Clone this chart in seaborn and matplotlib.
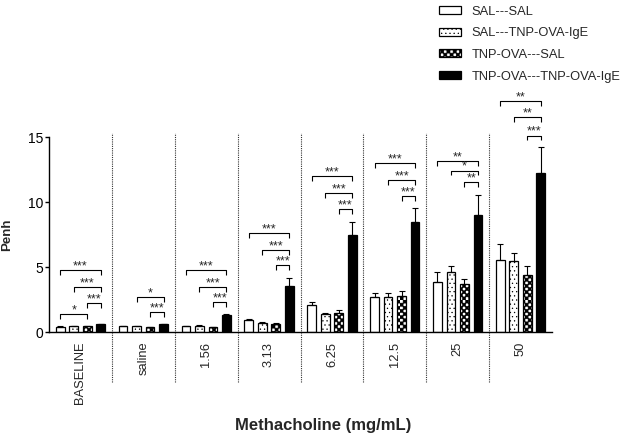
import warnings
import numpy as np
import pandas as pd
import seaborn as sns
import matplotlib
matplotlib.use('Agg')
import matplotlib.pyplot as plt
from matplotlib import hatch as mhatch
from matplotlib.path import Path

warnings.filterwarnings('ignore')

doses = ['BASELINE', 'saline', '1.56', '3.13', '6.25', '12.5', '25', '50']
groups = ['SAL---SAL', 'SAL---TNP-OVA-IgE', 'TNP-OVA---SAL', 'TNP-OVA---TNP-OVA-IgE']

sal_sal = [0.42, 0.45, 0.45, 0.95, 2.08, 2.72, 3.82, 5.54]
sal_ige = [0.45, 0.45, 0.50, 0.72, 1.38, 2.70, 4.60, 5.50]
ova_sal = [0.45, 0.35, 0.38, 0.62, 1.43, 2.80, 3.70, 4.38]
ova_ige = [0.58, 0.58, 1.30, 3.55, 7.45, 8.46, 9.05, 12.30]

sal_sal_err = [0.02, 0.02, 0.03, 0.08, 0.22, 0.28, 0.78, 1.23]
sal_ige_err = [0.02, 0.02, 0.03, 0.05, 0.12, 0.30, 0.50, 0.63]
ova_sal_err = [0.03, 0.03, 0.04, 0.05, 0.27, 0.40, 0.40, 0.70]
ova_ige_err = [0.04, 0.04, 0.08, 0.60, 1.06, 1.14, 1.55, 1.95]

# (dose index, bar a, bar b, bracket height, label)
brackets = [
    (0, 0, 3, 4.77, '***'), (0, 1, 3, 3.50, '***'), (0, 2, 3, 2.20, '***'), (0, 0, 2, 1.40, '*'),
    (1, 1, 3, 2.70, '*'), (1, 2, 3, 1.55, '***'),
    (2, 0, 3, 4.77, '***'), (2, 1, 3, 3.50, '***'), (2, 2, 3, 2.30, '***'),
    (3, 0, 3, 7.60, '***'), (3, 1, 3, 6.35, '***'), (3, 2, 3, 5.15, '***'),
    (4, 0, 3, 12.00, '***'), (4, 1, 3, 10.70, '***'), (4, 2, 3, 9.50, '***'),
    (5, 0, 3, 13.00, '***'), (5, 1, 3, 11.75, '***'), (5, 2, 3, 10.45, '***'),
    (6, 0, 3, 13.20, '**'), (6, 1, 3, 12.45, '*'), (6, 2, 3, 11.55, '**'),
    (7, 0, 3, 17.80, '**'), (7, 1, 3, 16.60, '**'), (7, 2, 3, 15.15, '***'),
]


# checkerboard hatch, triggered by 'c'
class CheckerHatch(mhatch.HatchPatternBase):
    def __init__(self, hatch, density):
        self.n = 32 if 'c' in hatch else 0
        self.num_vertices = (self.n * self.n // 2) * 5

    def set_vertices_and_codes(self, vertices, codes):
        s = 1.0 / self.n
        k = 0
        for i in range(self.n):
            for j in range(self.n):
                if (i + j) % 2:
                    continue
                x0, y0 = i * s, j * s
                vertices[k:k + 5] = [(x0, y0), (x0 + s, y0), (x0 + s, y0 + s), (x0, y0 + s), (x0, y0)]
                codes[k:k + 5] = [Path.MOVETO, Path.LINETO, Path.LINETO, Path.LINETO, Path.CLOSEPOLY]
                k += 5


mhatch._hatch_types.append(CheckerHatch)

sns.set_style('ticks')
plt.rcParams['font.family'] = ['Liberation Sans', 'DejaVu Sans']
plt.rcParams['hatch.linewidth'] = 0.4
plt.rcParams['hatch.color'] = 'black'

df = pd.DataFrame({
    'dose': doses * 4,
    'group': np.repeat(groups, len(doses)),
    'penh': sal_sal + sal_ige + ova_sal + ova_ige,
})

fig = plt.figure(figsize=(6.3, 4.4), dpi=100)
ax = fig.add_axes([49 / 630, 1 - 332 / 440, 503 / 630, 194.5 / 440])

sns.barplot(data=df, x='dose', y='penh', hue='group', order=doses, hue_order=groups,
            palette=['white', 'white', 'white', 'black'], saturation=1,
            width=0.86, gap=0.35, edgecolor='black', linewidth=0.9,
            errorbar=None, legend=False, ax=ax)

hatches = [None, '....', 'c', None]
errs = [sal_sal_err, sal_ige_err, ova_sal_err, ova_ige_err]
for cont, h, err in zip(ax.containers, hatches, errs):
    xs, ys = [], []
    for p in cont:
        if h:
            p.set_hatch(h)
        xs.append(p.get_x() + p.get_width() / 2)
        ys.append(p.get_height())
    ax.errorbar(xs, ys, yerr=[np.zeros(len(err)), err], fmt='none', ecolor='black',
                elinewidth=0.8, capsize=2, capthick=0.8, zorder=3)


def bar_x(d, b):
    p = ax.containers[b][d]
    return p.get_x() + p.get_width() / 2


for d, a, b, y, lab in brackets:
    xa, xb = bar_x(d, a), bar_x(d, b)
    ax.plot([xa, xa, xb, xb], [y - 0.38, y, y, y - 0.38], color='black', lw=0.8,
            clip_on=False, solid_capstyle='butt')
    ax.text((xa + xb) / 2, y + 0.05, lab, ha='center', va='baseline', fontsize=9,
            clip_on=False)

# dotted separators between doses
trans = ax.get_xaxis_transform()
for i in range(len(doses) - 1):
    ax.plot([i + 0.5, i + 0.5], [-0.257, 1.023], transform=trans, color='#333333',
            lw=0.8, ls=(0, (1, 1)), clip_on=False)

ax.set_xlim(-0.5, len(doses) - 0.5)
ax.set_ylim(0, 15)
ax.set_yticks([0, 5, 10, 15])
sns.despine(ax=ax)
ax.spines['left'].set_bounds(0, 15)
for sp in ['left', 'bottom']:
    ax.spines[sp].set_linewidth(1.0)
    ax.spines[sp].set_color('black')
ax.tick_params(axis='y', length=3, width=1, labelsize=10, colors='black', pad=1)
ax.tick_params(axis='x', length=0, labelsize=9.3, pad=7, labelrotation=90)

ax.set_ylabel('Penh', fontsize=9.5, fontweight='bold')
ax.yaxis.set_label_coords(-0.072, 0.5)
ax.set_xlabel('Methacholine (mg/mL)', fontsize=12, fontweight='bold')
ax.xaxis.set_label_coords(0.545, -0.442)
ax.xaxis.label.set_va('top')

ax.legend(ax.containers, groups, loc='upper left', bbox_to_anchor=(0.682, 1.008),
          bbox_transform=fig.transFigure, frameon=False, fontsize=9.3,
          handlelength=1.7, handleheight=0.55, handletextpad=0.85,
          labelspacing=0.75, borderpad=0.2)

fig.savefig('out.png', dpi=100)
